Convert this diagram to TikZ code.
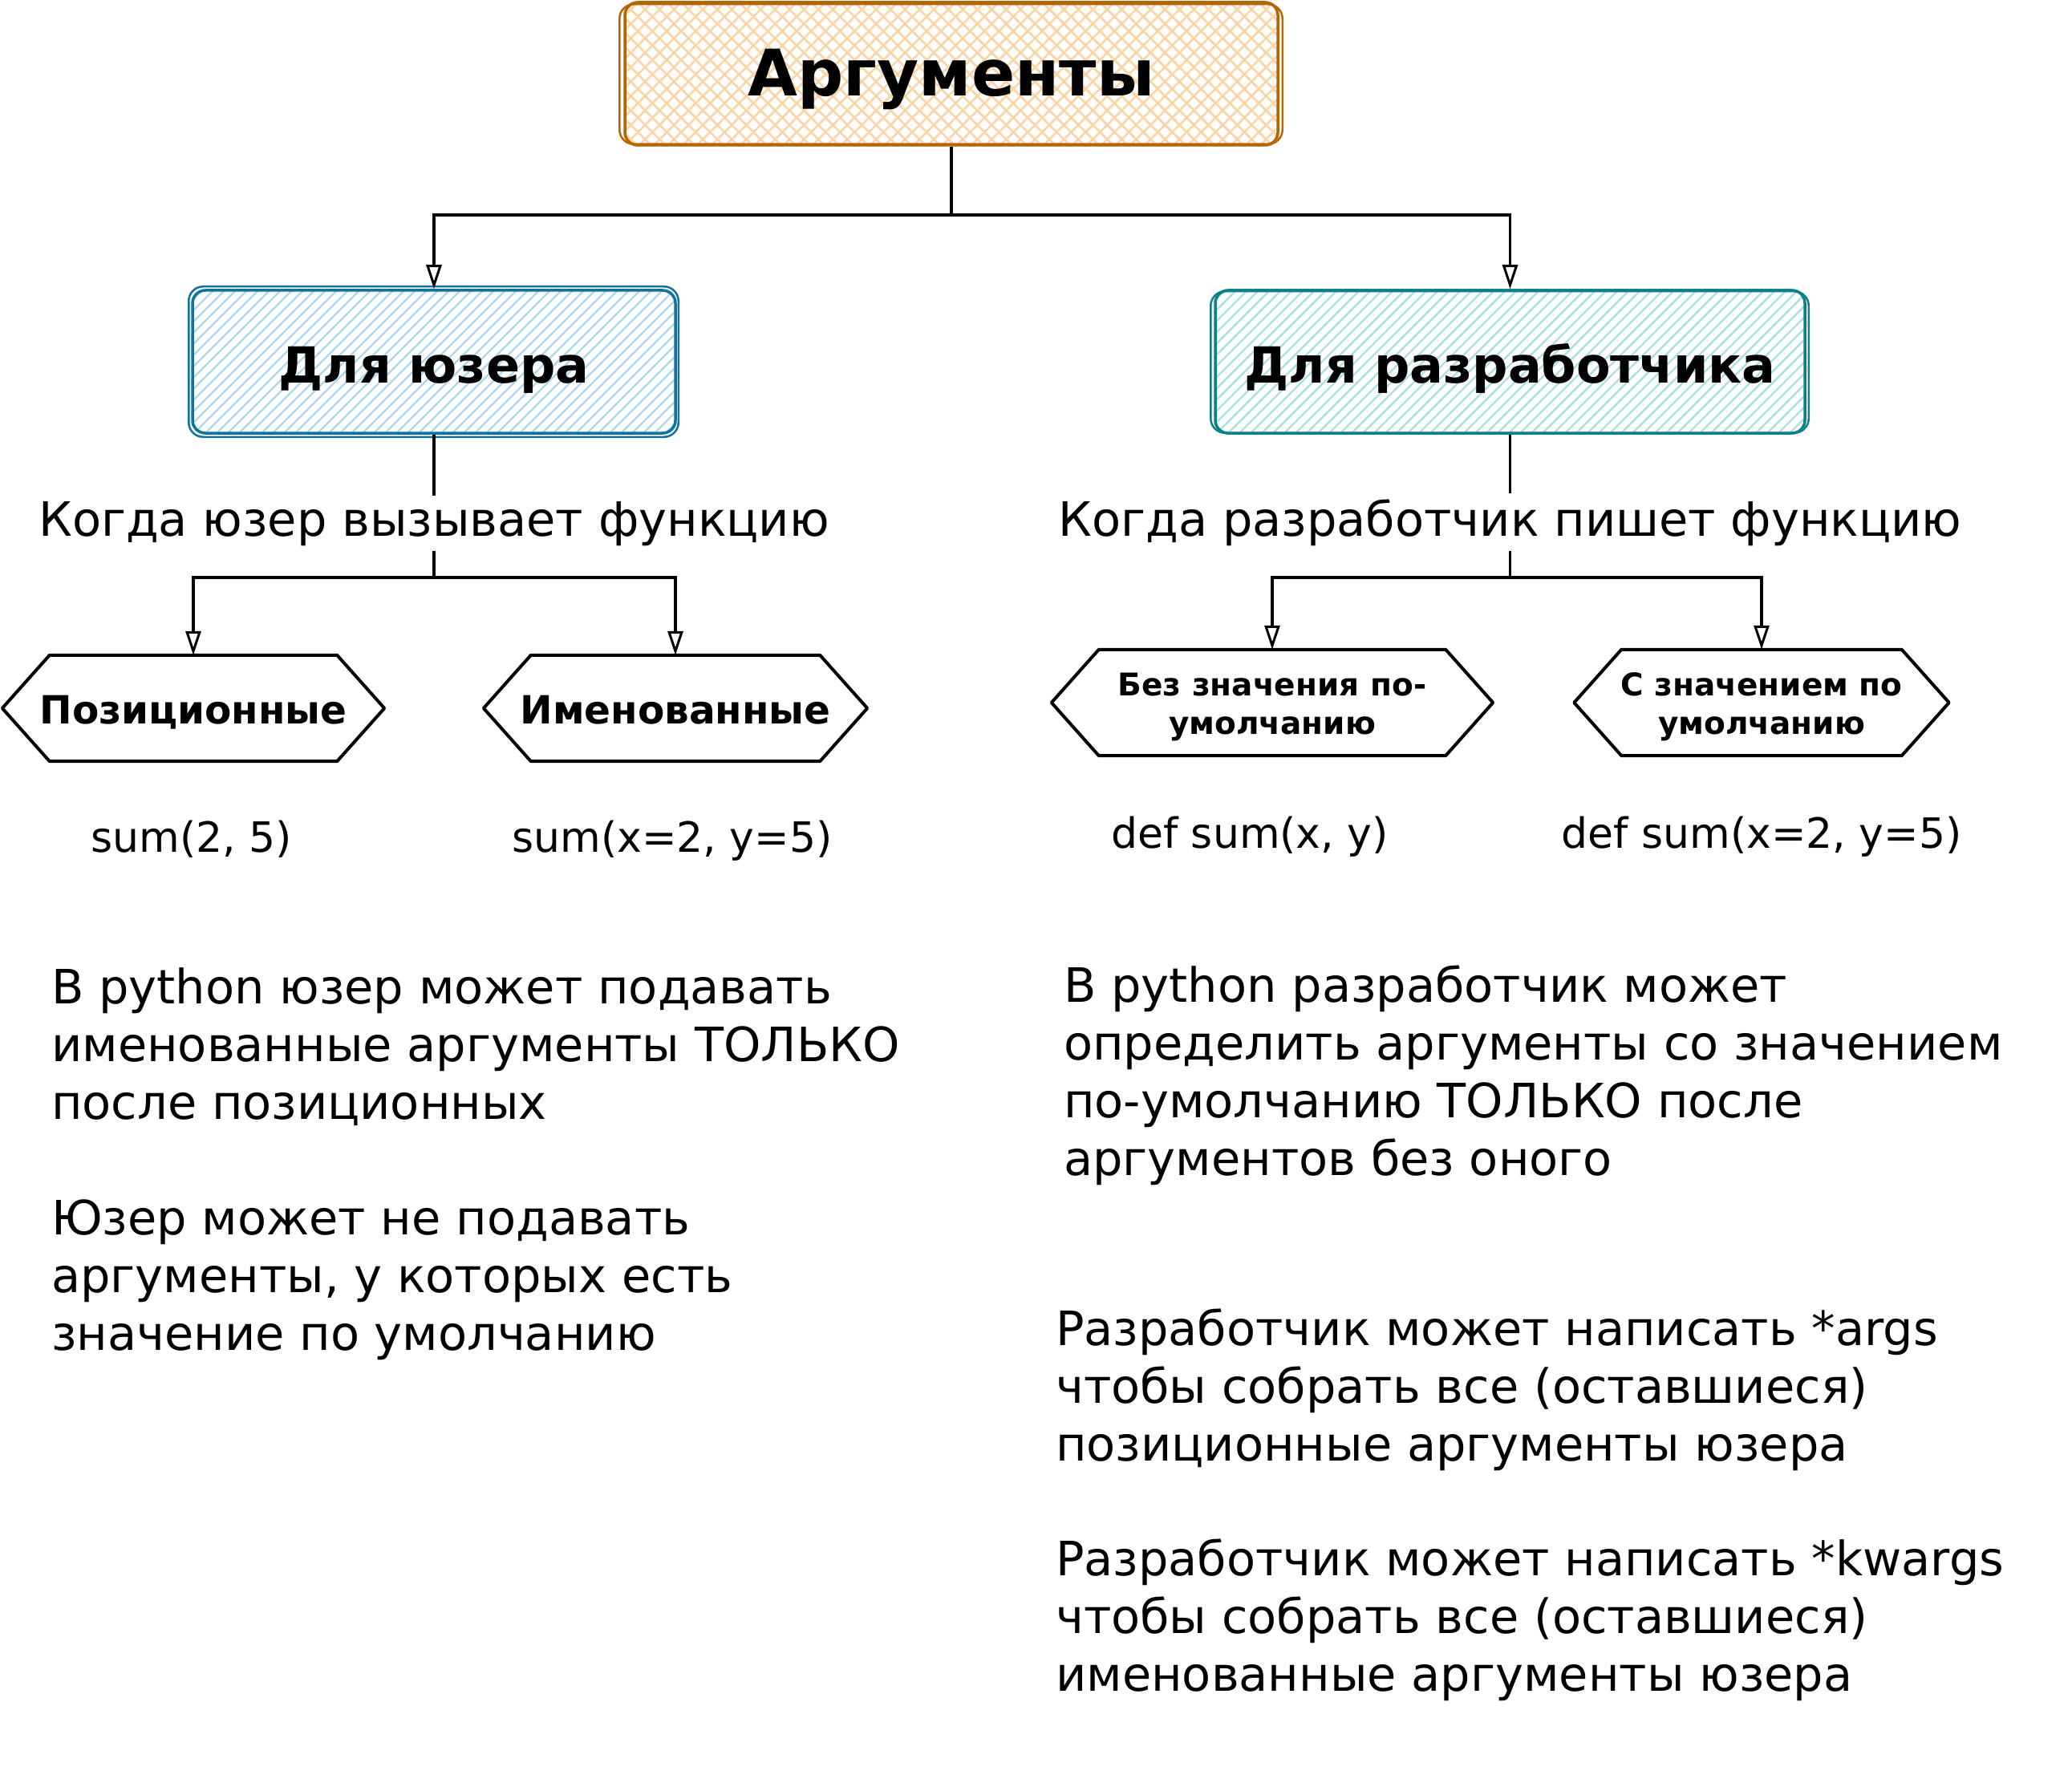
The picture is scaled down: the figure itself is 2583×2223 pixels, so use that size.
\documentclass[tikz,border=0pt]{standalone}
\usepackage{fontspec}
\setmainfont{DejaVu Sans}
\usetikzlibrary{arrows.meta,calc,backgrounds}
\definecolor{orS}{RGB}{180,101,4}
\definecolor{orH}{RGB}{250,213,168}
\definecolor{blS}{RGB}{16,115,158}
\definecolor{blH}{RGB}{170,216,238}
\definecolor{tlS}{RGB}{14,128,136}
\definecolor{tlH}{RGB}{170,224,228}
\begin{document}
\begin{tikzpicture}[x=1pt,y=-1pt,
  boxnode/.style={rectangle,rounded corners=16pt,line width=3.5pt,minimum height=178pt,inner sep=0pt},
  hexnode/.style={rectangle,draw=none,minimum height=132pt,inner sep=0pt},
  hexline/.style={line width=4pt,line join=round},
  ttl/.style={anchor=base,font=\bfseries\fontsize{80}{96}\selectfont,inner sep=0pt},
  sub/.style={anchor=base,font=\bfseries\fontsize{62}{74}\selectfont,inner sep=0pt},
  hext/.style={anchor=base,align=center,font=\bfseries\fontsize{48.5}{56}\selectfont,inner sep=0pt},
  hext2/.style={anchor=base,align=center,font=\bfseries\fontsize{39}{48}\selectfont,inner sep=0pt},
  lbl/.style={anchor=base,fill=white,inner sep=7pt,font=\fontsize{59}{72}\selectfont},
  code/.style={anchor=base,inner sep=0pt,font=\fontsize{52}{62}\selectfont},
  para/.style={anchor=base west,align=left,inner sep=0pt,font=\fontsize{59}{72}\selectfont},
  arr/.style={line width=3.5pt,-{Triangle[open,length=30pt,width=19pt,line width=3pt]}},
  conn/.style={line width=3.5pt}
]
\useasboundingbox (0,0) rectangle (2583,2223);

% boxes
\node[boxnode,draw=orS,minimum width=814pt] (top) at (1186,92) {};
\node[boxnode,draw=blS,minimum width=602pt] (ubox) at (541,451) {};
\node[boxnode,draw=tlS,minimum width=735pt] (dbox) at (1882.5,451) {};

% sketchy second strokes
\draw[orS,line width=2.5pt,rounded corners=18pt] ($(top.north west)+(-5,4)$) rectangle ($(top.south east)+(4,-3)$);
\draw[blS,line width=2.5pt,rounded corners=18pt] ($(ubox.north west)+(-3,-3)$) rectangle ($(ubox.south east)+(2,3)$);
\draw[tlS,line width=2.5pt,rounded corners=18pt] ($(dbox.north west)+(-4,3)$) rectangle ($(dbox.south east)+(3,-2)$);

% hatching
\begin{scope}[on background layer]
  \fill[white] (0,0) rectangle (2583,2223);
  \begin{scope}
    \clip[rounded corners=16pt] (top.north west) rectangle (top.south east);
    \foreach \t in {0,18,...,1010} {
      \draw[orH,line width=2.8pt] ($(top.south west)+(\t-180,0)$) -- ++(180,-180);
      \draw[orH,line width=2.8pt] ($(top.south west)+(\t,0)$) -- ++(-180,-180);
    }
  \end{scope}
  \begin{scope}
    \clip[rounded corners=16pt] (ubox.north west) rectangle (ubox.south east);
    \foreach \t in {0,14,...,790} {
      \draw[blH,line width=2.4pt] ($(ubox.south west)+(\t-180,0)$) -- ++(180,-180);
    }
  \end{scope}
  \begin{scope}
    \clip[rounded corners=16pt] (dbox.north west) rectangle (dbox.south east);
    \foreach \t in {0,14,...,920} {
      \draw[tlH,line width=2.4pt] ($(dbox.south west)+(\t-180,0)$) -- ++(180,-180);
    }
  \end{scope}
\end{scope}

% box texts
\node[ttl] (ttop) at (1186,120) {Аргументы};
\node[sub] (tubox) at (541,477) {Для юзера};
\node[sub] (tdbox) at (1882.5,477) {Для разработчика};

% hexagons
\node[hexnode,minimum width=476pt] (h1) at (241,883) {};
\node[hexnode,minimum width=478pt] (h2) at (842,883) {};
\node[hexnode,minimum width=550pt] (h3) at (1586,876) {};
\node[hexnode,minimum width=467pt] (h4) at (2196,876) {};
\foreach \h in {h1,h2,h3,h4} {
  \draw[hexline] (\h.west) -- ($(\h.north west)+(59,0)$) -- ($(\h.north east)+(-59,0)$)
     -- (\h.east) -- ($(\h.south east)+(-59,0)$) -- ($(\h.south west)+(59,0)$) -- cycle;
}
\node[hext] (th1) at (241,902) {Позиционные};
\node[hext] (th2) at (842,902) {Именованные};
\node[hext2] (th3) at (1586,915) {Без значения по-\\умолчанию};
\node[hext2] (th4) at (2196,915) {С значением по\\умолчанию};

% connectors
\coordinate (j1) at (1186,268);
\coordinate (j2) at (541,720);
\coordinate (j3) at (1882.5,720);
\draw[conn] (top.south) -- (j1);
\draw[arr] (j1) -| (ubox.north);
\draw[arr] (j1) -| (dbox.north);
\draw[conn] (ubox.south) -- (j2);
\draw[arr] (j2) -| (h1.north);
\draw[arr] (j2) -| (h2.north);
\draw[conn] (dbox.south) -- (j3);
\draw[arr] (j3) -| (h3.north);
\draw[arr] (j3) -| (h4.north);

\node[lbl] (lu) at (541,668) {Когда юзер вызывает функцию};
\node[lbl] (ld) at (1882.5,668) {Когда разработчик пишет функцию};

% code
\node[code] (c1) at (239,1062) {sum(2, 5)};
\node[code] (c2) at (838,1062) {sum(x=2, y=5)};
\node[code] (c3) at (1558,1057) {def sum(x, y)};
\node[code] (c4) at (2196,1057) {def sum(x=2, y=5)};

% paragraphs (anchor = baseline of last line)
\node[para] (p1) at (64,1395) {В python юзер может подавать\\именованные аргументы ТОЛЬКО\\после позиционных};
\node[para] (p2) at (64,1683) {Юзер может не подавать\\аргументы, у которых есть\\значение по умолчанию};
\node[para] (p3) at (1326,1465) {В python разработчик может\\определить аргументы со значением\\по-умолчанию ТОЛЬКО после\\аргументов без оного};
\node[para] (p4) at (1316,1821) {Разработчик может написать *args\\чтобы собрать все (оставшиеся)\\позиционные аргументы юзера};
\node[para] (p5) at (1316,2108) {Разработчик может написать *kwargs\\чтобы собрать все (оставшиеся)\\именованные аргументы юзера};
\end{tikzpicture}
\end{document}
